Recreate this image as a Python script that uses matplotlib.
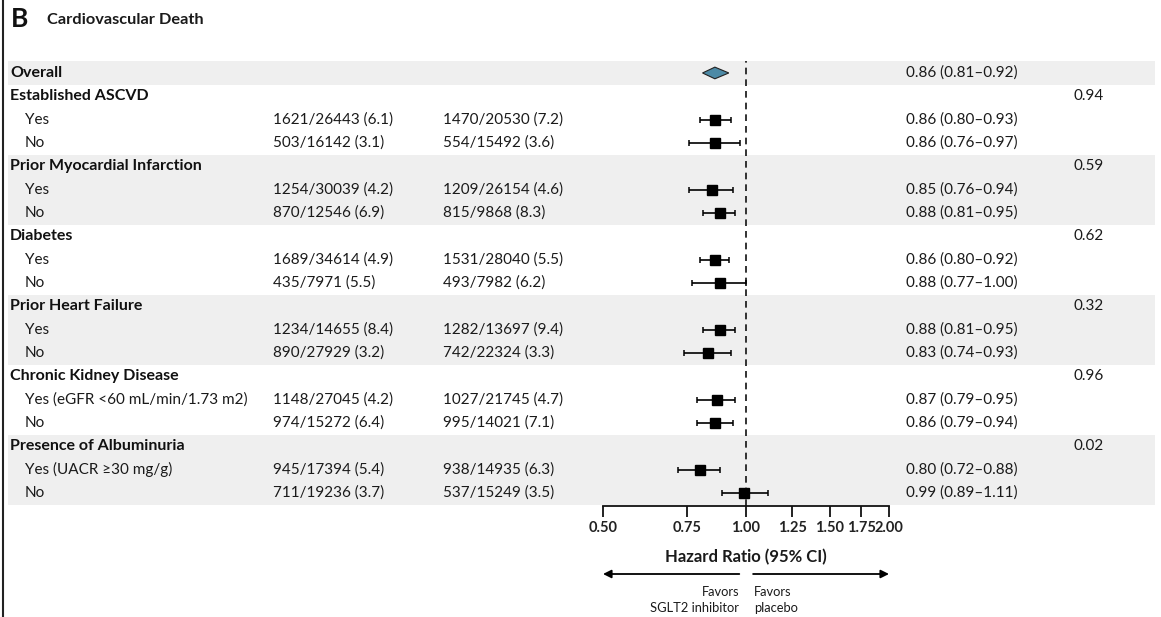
import matplotlib
matplotlib.use("Agg")
import matplotlib.pyplot as plt
from matplotlib.lines import Line2D
from matplotlib.patches import Polygon
from matplotlib.ticker import FixedLocator, NullLocator
import numpy as np

plt.rcParams['font.family'] = ['Lato', 'DejaVu Sans']

# ---------------- data ----------------
labels = ["Overall", "Established ASCVD", "Yes", "No",
          "Prior Myocardial Infarction", "Yes", "No",
          "Diabetes", "Yes", "No",
          "Prior Heart Failure", "Yes", "No",
          "Chronic Kidney Disease", "Yes (eGFR <60 mL/min/1.73 m2)", "No",
          "Presence of Albuminuria", "Yes (UACR \u226530 mg/g)", "No"]
is_header = [1, 1, 0, 0, 1, 0, 0, 1, 0, 0, 1, 0, 0, 1, 0, 0, 1, 0, 0]
sglt2 = ["", "", "1621/26443 (6.1)", "503/16142 (3.1)",
         "", "1254/30039 (4.2)", "870/12546 (6.9)",
         "", "1689/34614 (4.9)", "435/7971 (5.5)",
         "", "1234/14655 (8.4)", "890/27929 (3.2)",
         "", "1148/27045 (4.2)", "974/15272 (6.4)",
         "", "945/17394 (5.4)", "711/19236 (3.7)"]
placebo = ["", "", "1470/20530 (7.2)", "554/15492 (3.6)",
           "", "1209/26154 (4.6)", "815/9868 (8.3)",
           "", "1531/28040 (5.5)", "493/7982 (6.2)",
           "", "1282/13697 (9.4)", "742/22324 (3.3)",
           "", "1027/21745 (4.7)", "995/14021 (7.1)",
           "", "938/14935 (6.3)", "537/15249 (3.5)"]
hr = [0.86, None, 0.86, 0.86, None, 0.85, 0.88, None, 0.86, 0.88,
      None, 0.88, 0.83, None, 0.87, 0.86, None, 0.80, 0.99]
lo = [0.81, None, 0.80, 0.76, None, 0.76, 0.81, None, 0.80, 0.77,
      None, 0.81, 0.74, None, 0.79, 0.79, None, 0.72, 0.89]
hi = [0.92, None, 0.93, 0.97, None, 0.94, 0.95, None, 0.92, 1.00,
      None, 0.95, 0.93, None, 0.95, 0.94, None, 0.88, 1.11]
pvals = ["", "0.94", "", "", "0.59", "", "", "0.62", "", "",
         "0.32", "", "", "0.96", "", "", "0.02", "", ""]
shaded_rows = [0, 4, 5, 6, 10, 11, 12, 16, 17, 18]
xticks = [0.50, 0.75, 1.00, 1.25, 1.50, 1.75, 2.00]
xtick_labels = ["0.50", "0.75", "1.00", "1.25", "1.50", "1.75", "2.00"]

# ---------------- layout ----------------
W, H = 1161, 617
fig = plt.figure(figsize=(W / 100, H / 100), dpi=100)
fig.patch.set_facecolor("white")

ytop, ybot = -0.5, 18.56
ax_bottom = 1 - 506 / H
ax_height = (506 - 61.3) / H

bg = fig.add_axes([0, ax_bottom, 1, ax_height])
bg.set_xlim(0, W)
bg.set_ylim(ybot, ytop)
bg.axis("off")

band_color = "#efefef"
for r in shaded_rows:
    bg.axhspan(r - 0.5, r + 0.5, xmin=8 / W, xmax=1155 / W, color=band_color, lw=0, zorder=0)

txt_color = "#1a1a1a"
fs = 11
fs_head = 11.5
n = len(labels)
for i in range(n):
    if is_header[i]:
        bg.text(10, i, labels[i], fontsize=fs_head, fontweight="bold", color="#111111", va="center", ha="left")
    else:
        bg.text(25, i, labels[i], fontsize=fs, color=txt_color, va="center", ha="left")
    if sglt2[i]:
        bg.text(273, i, sglt2[i], fontsize=fs, color=txt_color, va="center", ha="left")
    if placebo[i]:
        bg.text(443, i, placebo[i], fontsize=fs, color=txt_color, va="center", ha="left")
    if hr[i] is not None:
        bg.text(906, i, f"{hr[i]:.2f} ({lo[i]:.2f}\u2013{hi[i]:.2f})", fontsize=fs, color=txt_color,
                va="center", ha="left")
    if pvals[i]:
        bg.text(1073, i, pvals[i], fontsize=fs, color=txt_color, va="center", ha="left")

# ---------------- forest axes ----------------
ax = fig.add_axes([603 / W, ax_bottom, 286 / W, ax_height])
ax.patch.set_alpha(0)
ax.set_xscale("log")
ax.set_xlim(0.5, 2.0)
ax.set_ylim(ybot, ytop)
for s in ["top", "right", "left"]:
    ax.spines[s].set_visible(False)
ax.spines["bottom"].set_linewidth(1.3)
ax.spines["bottom"].set_color("#111111")
ax.yaxis.set_visible(False)
ax.xaxis.set_major_locator(FixedLocator(xticks))
ax.xaxis.set_minor_locator(NullLocator())
ax.set_xticklabels(xtick_labels, fontsize=10.5, fontweight="bold", color="#222222")
ax.tick_params(axis="x", direction="out", length=8, width=1.3, color="#111111", pad=3)

ax.axvline(1.0, ymin=0, ymax=1, color="#111111", lw=1.2, ls=(0, (4, 3)), zorder=1)

for i in range(n):
    if hr[i] is None:
        continue
    if i == 0:
        dh = 0.25
        poly = Polygon([[lo[i], i], [hr[i], i - dh], [hi[i], i], [hr[i], i + dh]],
                       closed=True, facecolor="#4d8aa6", edgecolor="#222222", lw=0.8, zorder=3)
        ax.add_patch(poly)
    else:
        ax.errorbar(hr[i], i, xerr=[[hr[i] - lo[i]], [hi[i] - hr[i]]], fmt="s",
                    color="black", ms=7.2, elinewidth=1.2, capsize=2.3, capthick=1.1, zorder=3)

ax.set_xlabel("Hazard Ratio (95% CI)", fontsize=12, fontweight="bold", color="#1a1a1a", labelpad=10)

trans = ax.get_xaxis_transform()
y_arrow = (506 - 574) / (506 - 61.3)
ax.annotate("", xy=(0.5, y_arrow), xytext=(0.968, y_arrow), xycoords=trans, textcoords=trans,
            arrowprops=dict(arrowstyle="-|>", color="black", lw=1.3, mutation_scale=12,
                            shrinkA=0, shrinkB=0), annotation_clip=False)
ax.annotate("", xy=(2.0, y_arrow), xytext=(1.035, y_arrow), xycoords=trans, textcoords=trans,
            arrowprops=dict(arrowstyle="-|>", color="black", lw=1.3, mutation_scale=12,
                            shrinkA=0, shrinkB=0), annotation_clip=False)
y_fav = (506 - 600) / (506 - 61.3)
ax.text(0.967, y_fav, "Favors\nSGLT2 inhibitor", transform=trans, ha="right", va="center",
        fontsize=9.3, color="#1a1a1a", linespacing=1.5)
ax.text(1.04, y_fav, "Favors\nplacebo", transform=trans, ha="left", va="center",
        fontsize=9.3, color="#1a1a1a", linespacing=1.5)

# ---------------- title and frame ----------------
fig.text(11 / W, 1 - 19 / H, "B", fontsize=19, fontweight="bold", color="#111111", va="center", ha="left")
fig.text(47 / W, 1 - 20 / H, "Cardiovascular Death", fontsize=11.8, fontweight="bold", color="#1a1a1a",
         va="center", ha="left")
fig.add_artist(Line2D([2.5 / W, 2.5 / W], [0, 1], color="#222222", lw=1.5, transform=fig.transFigure))

fig.savefig("out.png", dpi=100)
